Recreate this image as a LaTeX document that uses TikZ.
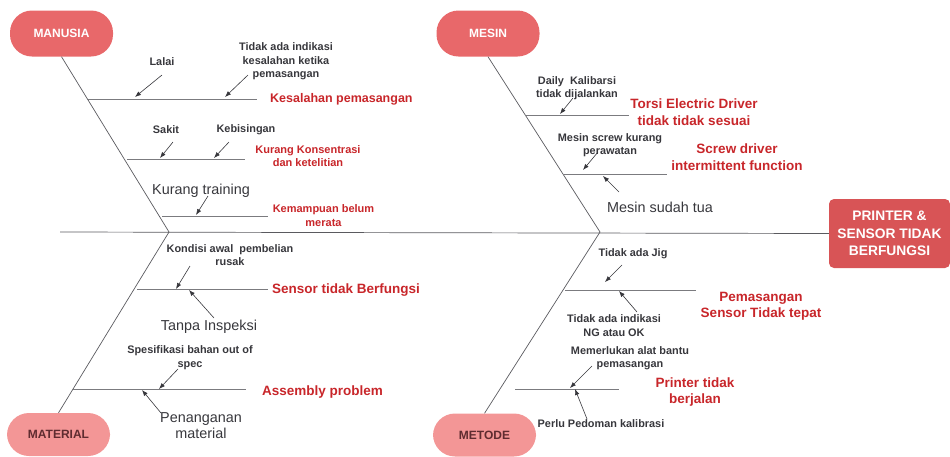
\documentclass[tikz,border=0pt]{standalone}
\usepackage{fontspec}
\setmainfont{Liberation Sans}
\usetikzlibrary{arrows.meta}
\definecolor{boxA}{RGB}{232,104,106}
\definecolor{boxB}{RGB}{243,150,150}
\definecolor{boxC}{RGB}{216,84,86}
\definecolor{redtxt}{RGB}{200,38,42}
\definecolor{darktxt}{RGB}{55,55,60}
\definecolor{linec}{RGB}{90,90,95}
\begin{document}
\begin{tikzpicture}[x=1pt,y=-1pt,
  pill/.style={rounded corners=22pt,minimum width=103pt,minimum height=46pt,inner sep=0pt,font=\bfseries\fontsize{12}{14}\selectfont},
  bone/.style={draw=linec,line width=0.7pt},
  rib/.style={draw=linec!80,line width=0.8pt},
  cause/.style={draw=darktxt,line width=0.6pt,-{Latex[length=6pt,width=4.5pt]}},
  sm/.style={align=center,text=darktxt,inner sep=0pt,font=\bfseries\fontsize{10.9}{13.5}\selectfont},
  big/.style={align=center,text=darktxt,inner sep=0pt,font=\fontsize{14.4}{16}\selectfont},
  rd/.style={align=center,text=redtxt,inner sep=0pt,font=\bfseries\fontsize{13.5}{16.5}\selectfont},
  rds/.style={align=center,text=redtxt,inner sep=0pt,font=\bfseries\fontsize{11}{13.5}\selectfont}]
\useasboundingbox (0,0) rectangle (950,456);
% category boxes
\node[pill,fill=boxA,text=white] (man) at (61.5,33.5) {MANUSIA};
\node[pill,fill=boxA,text=white] (mes) at (488,33.5) {MESIN};
\node[pill,fill=boxB,text=darktxt!80!red,minimum height=43pt] (mat) at (58.5,434.5) {MATERIAL};
\node[pill,fill=boxB,text=darktxt!80!red,minimum height=43pt] (met) at (484.5,435) {METODE};
\node[fill=boxC,text=white,rounded corners=5pt,minimum width=121pt,minimum height=69pt,align=center,inner sep=0pt,font=\bfseries\fontsize{13.8}{17.5}\selectfont] (eff) at (889.5,233.5) {PRINTER \&\\SENSOR TIDAK\\BERFUNGSI};
% spine and bones
\coordinate (sL) at (60,232);
\coordinate (j1) at (169,232);
\coordinate (j2) at (600,232);
\draw[bone] (sL) -- (eff.west);
\draw[bone] (man.south) -- (j1);
\draw[bone] (mes.south) -- (j2);
\draw[bone] (j1) -- (mat.north);
\draw[bone] (j2) -- (met.north);
% ---- MANUSIA ----
\coordinate (r1a) at (88,99); \coordinate (r1b) at (257,99);
\draw[rib] (r1a) -- (r1b);
\node[rd,anchor=west,font=\bfseries\fontsize{12.5}{16}\selectfont] (l1) at (270,99) {Kesalahan pemasangan};
\node[sm] (c11) at (162,62) {Lalai};
\node[sm] (c12) at (286,61.5) {Tidak ada indikasi\\kesalahan ketika\\pemasangan};
\coordinate (a11) at (135,97); \coordinate (a12) at (225,97);
\draw[cause] (162,75) -- (a11);
\draw[cause] (248,75) -- (a12);

\coordinate (r2a) at (127,159); \coordinate (r2b) at (245,159);
\draw[rib] (r2a) -- (r2b);
\node[rds] (l2) at (308,156) {Kurang Konsentrasi\\dan ketelitian};
\node[sm] (c21) at (166,130) {Sakit};
\node[sm] (c22) at (246,130) {Kebisingan};
\coordinate (a21) at (160,158); \coordinate (a22) at (214,158);
\draw[cause] (173,142) -- (a21);
\draw[cause] (229,142) -- (a22);

\coordinate (r3a) at (162,216); \coordinate (r3b) at (268,216);
\draw[rib] (r3a) -- (r3b);
\node[rds] (l3) at (323.5,215.5) {Kemampuan belum\\merata};
\node[big] (c31) at (201,191) {Kurang training};
\coordinate (a31) at (196,215);
\draw[cause] (208,196) -- (a31);
% ---- MESIN ----
\coordinate (m1a) at (525,115); \coordinate (m1b) at (629,115);
\draw[rib] (m1a) -- (m1b);
\node[rd] (lm1) at (694,112) {Torsi Electric Driver\\tidak tidak sesuai};
\node[sm] (cm11) at (577,88) {Daily~ Kalibarsi\\tidak dijalankan};
\coordinate (am11) at (560,114);
\draw[cause] (573,98) -- (am11);

\coordinate (m2a) at (563,174); \coordinate (m2b) at (667,174);
\draw[rib] (m2a) -- (m2b);
\node[rd] (lm2) at (737,157) {Screw driver\\intermittent function};
\node[sm] (cm21) at (610,145) {Mesin screw kurang\\perawatan};
\node[big] (cm22) at (660,207) {Mesin sudah tua};
\coordinate (am21) at (583,170); \coordinate (am22) at (603,176);
\draw[cause] (598,152) -- (am21);
\draw[cause] (619,192) -- (am22);
% ---- MATERIAL ----
\coordinate (t1a) at (137,289); \coordinate (t1b) at (268,289);
\draw[rib] (t1a) -- (t1b);
\node[rd,anchor=west] (lt1) at (272,290) {Sensor tidak Berfungsi};
\node[sm] (ct11) at (230,255) {Kondisi awal~ pembelian\\rusak};
\node[big] (ct12) at (209,327) {Tanpa Inspeksi};
\coordinate (at11) at (176,289); \coordinate (at12) at (189,290);
\draw[cause] (190,266) -- (at11);
\draw[cause] (214,318) -- (at12);

\coordinate (t2a) at (73,389); \coordinate (t2b) at (246,389);
\draw[rib] (t2a) -- (t2b);
\node[rd,anchor=west] (lt2) at (262,392) {Assembly problem};
\node[sm] (ct21) at (190,357.5) {Spesifikasi bahan out of\\spec};
\node[big] (ct22) at (201,426) {Penanganan\\material};
\coordinate (at21) at (159,389); \coordinate (at22) at (142,390);
\draw[cause] (178,369) -- (at21);
\draw[cause] (161,413) -- (at22);
% ---- METODE ----
\coordinate (d1a) at (565,290); \coordinate (d1b) at (696,290);
\draw[rib] (d1a) -- (d1b);
\node[rd] (ld1) at (761,306) {Pemasangan\\Sensor Tidak tepat};
\node[sm] (cd11) at (633,254) {Tidak ada Jig};
\node[sm] (cd12) at (614,325.5) {Tidak ada indikasi\\NG atau OK};
\coordinate (ad11) at (605,282); \coordinate (ad12) at (619,291);
\draw[cause] (622,265) -- (ad11);
\draw[cause] (637,312) -- (ad12);

\coordinate (d2a) at (515,389); \coordinate (d2b) at (619,389);
\draw[rib] (d2a) -- (d2b);
\node[rd] (ld2) at (695,392) {Printer tidak\\berjalan};
\node[sm] (cd21) at (630,358) {Memerlukan alat bantu\\pemasangan};
\node[sm] (cd22) at (601,424) {Perlu Pedoman kalibrasi};
\coordinate (ad21) at (570,388); \coordinate (ad22) at (575,389);
\draw[cause] (592,366) -- (ad21);
\draw[cause] (587,419) -- (ad22);
\end{tikzpicture}
\end{document}
